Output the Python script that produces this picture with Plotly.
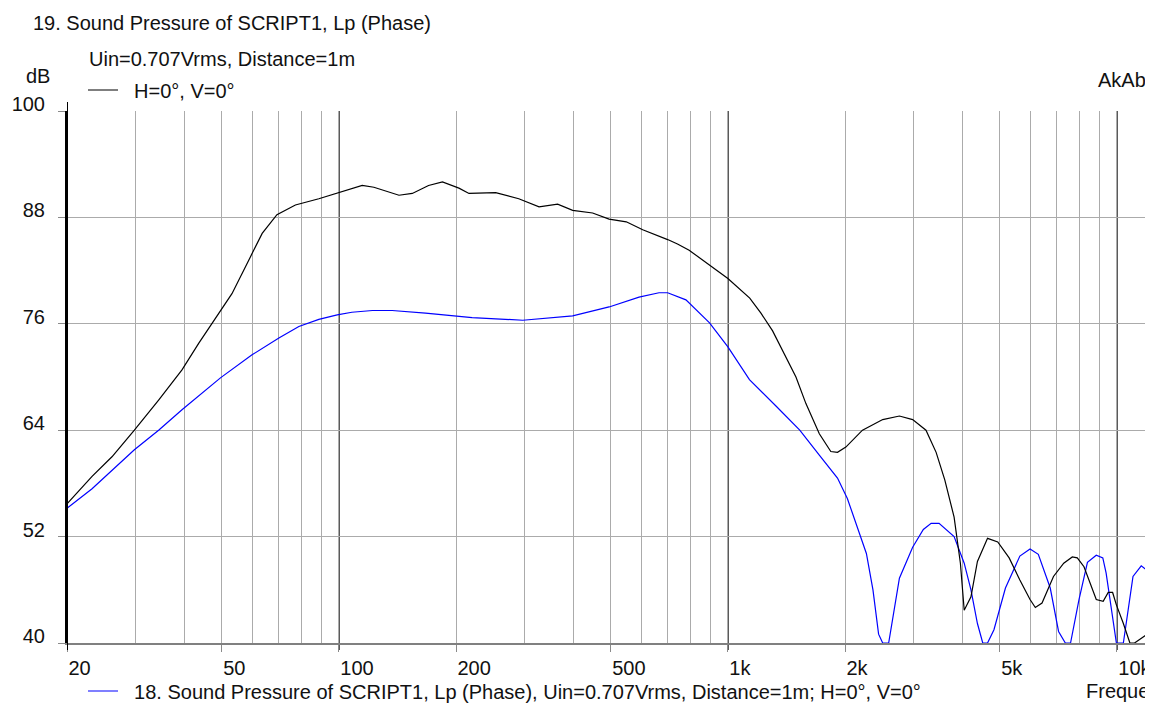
import math
import plotly.graph_objects as go

# ---------------- data ----------------
FREQ_19 = [20, 23.2, 26.1, 29.8, 34.4, 39.5, 43.6, 47.7, 53.1, 59.3, 63.5, 69.3, 77.3,
           88.8, 99, 114.8, 123, 142.7, 154.4, 170, 184.6, 203.5, 216, 253, 290, 327,
           365, 399, 449, 495, 548, 604, 700, 742, 795, 897, 1000, 1138, 1216, 1303,
           1385, 1496, 1587, 1718, 1839, 1913, 2010, 2218, 2500, 2760, 2985, 3230,
           3430, 3610, 3815, 3960, 4050, 4215, 4380, 4650, 4940, 5285, 5630, 5980,
           6170, 6420, 6870, 7300, 7680, 7910, 8230, 8850, 9220, 9500, 9750, 9970,
           10390, 10800, 11100, 11880, 12400]
SPL_19 = [55.7, 58.8, 61.0, 64.0, 67.4, 70.8, 73.8, 76.4, 79.4, 83.6, 86.2, 88.3, 89.4,
          90.1, 90.7, 91.6, 91.4, 90.5, 90.7, 91.6, 92.0, 91.3, 90.7, 90.8, 90.1, 89.2,
          89.5, 88.8, 88.5, 87.8, 87.5, 86.6, 85.5, 85.0, 84.3, 82.6, 81.1, 78.9, 77.2, 75.2,
          72.9, 70.0, 67.0, 63.6, 61.6, 61.5, 62.1, 64.0, 65.2, 65.6, 65.2, 64.0,
          61.5, 58.4, 54.2, 49.0, 43.7, 45.2, 49.2, 51.8, 51.4, 49.6, 47.1, 44.9,
          44.0, 44.5, 47.5, 49.0, 49.7, 49.6, 48.6, 44.9, 44.7, 45.7, 45.7, 44.3,
          42.2, 40.0, 40.0, 40.9, 41.3]

FREQ_18 = [20, 23.2, 29.8, 34.4, 39.5, 49.6, 59.8, 70.1, 78.9, 88.8, 99, 108, 122, 137,
           167, 203, 220, 297, 399, 495, 591, 665, 700, 780, 897, 1000, 1136, 1331,
           1530, 1718, 1913, 2028, 2090, 2270, 2360, 2440, 2500, 2590, 2760, 2985,
           3180, 3330, 3490, 3815, 4050, 4215, 4380, 4520, 4650, 4830, 5170, 5630,
           5980, 6280, 6740, 7080, 7370, 7600, 7990, 8400, 8850, 9200, 9380, 9700,
           9970, 10390, 11000, 11550, 11880, 12400]
SPL_18 = [55.2, 57.4, 61.8, 64.0, 66.3, 69.9, 72.5, 74.4, 75.7, 76.5, 77.0, 77.3, 77.5, 77.5,
          77.2, 76.9, 76.7, 76.4, 76.9, 77.9, 79.0, 79.5, 79.5, 78.7, 76.1, 73.4, 69.7, 66.7,
          64.0, 61.2, 58.6, 56.3, 54.6, 50.1, 46.0, 41.0, 40.0, 40.0, 47.3, 50.8,
          52.8, 53.5, 53.5, 52.0, 49.0, 46.0, 42.2, 40.0, 40.0, 41.5, 46.2, 49.8,
          50.6, 50.0, 46.2, 41.3, 40.0, 40.0, 44.9, 49.1, 49.9, 49.6, 47.9, 43.7,
          40.0, 40.0, 47.5, 48.7, 48.3, 47.5]

X_TICKS = [20, 50, 100, 200, 500, 1000, 2000, 5000, 10000]
X_TICK_TEXT = ["20", "50", "100", "200", "500", "1k", "2k", "5k", "10k"]
X_MINOR = [30, 40, 60, 70, 80, 90, 300, 400, 600, 700, 800, 900,
           3000, 4000, 6000, 7000, 8000, 9000]
X_DECADES = [100, 1000, 10000]
Y_TICKS = [40, 52, 64, 76, 88, 100]

NAME_19 = "H=0°, V=0°"
NAME_18 = "18. Sound Pressure of SCRIPT1, Lp (Phase), Uin=0.707Vrms, Distance=1m; H=0°, V=0°"
TITLE = "19. Sound Pressure of SCRIPT1, Lp (Phase)"
SUBTITLE = "Uin=0.707Vrms, Distance=1m"

# ---------------- layout geometry ----------------
# The page body has an 8px default margin; the figure is sized to fit the window.
OFF = 8
W, H = 1153 - OFF, 704 - OFF
ML, MT, MB, MR = 67 - OFF, 111 - OFF, 61, 0
PW, PH = W - ML - MR, H - MT - MB
DECADE_PX = 389.0
X0 = math.log10(20)
X1 = X0 + PW / DECADE_PX

FONT = "Liberation Sans, Arial, sans-serif"
TXT = "#111111"
GRID = "#ababab"


def px(x):
    """screen x (reference pixels) -> paper fraction"""
    return (x - OFF - ML) / PW


def py(y):
    """screen y (reference pixels) -> paper fraction"""
    return (H - MB - (y - OFF)) / PH


fig = go.Figure()
fig.add_trace(go.Scatter(x=FREQ_18, y=SPL_18, mode="lines",
                         line=dict(color="#0000ff", width=1.2),
                         name="\u00a0\u00a0" + NAME_18, legend="legend2"))
fig.add_trace(go.Scatter(x=FREQ_19, y=SPL_19, mode="lines",
                         line=dict(color="#000000", width=1.2),
                         name="\u00a0\u00a0" + NAME_19, legend="legend"))

shapes = []
for d in X_DECADES:
    shapes.append(dict(type="line", xref="x", yref="paper", x0=d, x1=d,
                       y0=-7 / PH, y1=1, line=dict(color="black", width=1.5),
                       layer="below"))
shapes.append(dict(type="line", xref="x", yref="paper", x0=20, x1=20,
                   y0=-7 / PH, y1=1 + 9 / PH, line=dict(color="black", width=2),
                   layer="above"))

annotations = [
    dict(text=TITLE, x=px(31), y=py(23)),
    dict(text=SUBTITLE, x=px(87), y=py(59)),
    dict(text="dB", x=px(24), y=py(76)),
    dict(text="AkAb", x=px(1096), y=py(80)),
    dict(text="Frequency", x=px(1084), y=py(691)),
]
for a in annotations:
    a.update(xref="paper", yref="paper", xanchor="left", yanchor="middle",
             showarrow=False, font=dict(size=20, color=TXT, family=FONT))

fig.update_layout(
    width=W, height=H, autosize=False,
    margin=dict(l=ML, r=MR, t=MT, b=MB, pad=0, autoexpand=False),
    paper_bgcolor="white", plot_bgcolor="white",
    font=dict(family=FONT, size=20, color=TXT),
    shapes=shapes, annotations=annotations,
    legend=dict(xref="container", yref="container", x=75 / W, y=1 - 82 / H,
                xanchor="left", yanchor="middle", bgcolor="rgba(0,0,0,0)",
                borderwidth=0, font=dict(size=20, color=TXT, family=FONT)),
    legend2=dict(xref="container", yref="container", x=75 / W, y=1 - 683 / H,
                 xanchor="left", yanchor="middle", bgcolor="rgba(0,0,0,0)",
                 borderwidth=0, font=dict(size=20, color=TXT, family=FONT)),
    showlegend=True,
)

fig.update_xaxes(
    type="log", range=[X0, X1], tickmode="array", tickvals=X_TICKS, ticktext=X_TICK_TEXT,
    ticks="outside", ticklen=7, tickcolor="#8a8a8a", tickwidth=1.3, tickangle=0,
    ticklabelposition="outside right", ticklabelstandoff=6,
    tickfont=dict(size=20, color=TXT, family=FONT),
    showgrid=True, gridcolor=GRID, gridwidth=1.3,
    minor=dict(tickmode="array", tickvals=X_MINOR, showgrid=True, gridcolor=GRID,
               gridwidth=1.3, ticks=""),
    showline=True, linecolor="#808080", linewidth=1.5, zeroline=False,
    fixedrange=True,
)
fig.update_yaxes(
    range=[40, 100], tickmode="array", tickvals=Y_TICKS,
    ticks="outside", ticklen=7, tickcolor="#8a8a8a", tickwidth=1.3,
    ticklabelshift=-7, ticklabelstandoff=9,
    tickfont=dict(size=20, color=TXT, family=FONT),
    showgrid=True, gridcolor=GRID, gridwidth=1.3,
    showline=True, linecolor="black", linewidth=2, zeroline=False,
    fixedrange=True,
)

fig.write_html("out.html")
